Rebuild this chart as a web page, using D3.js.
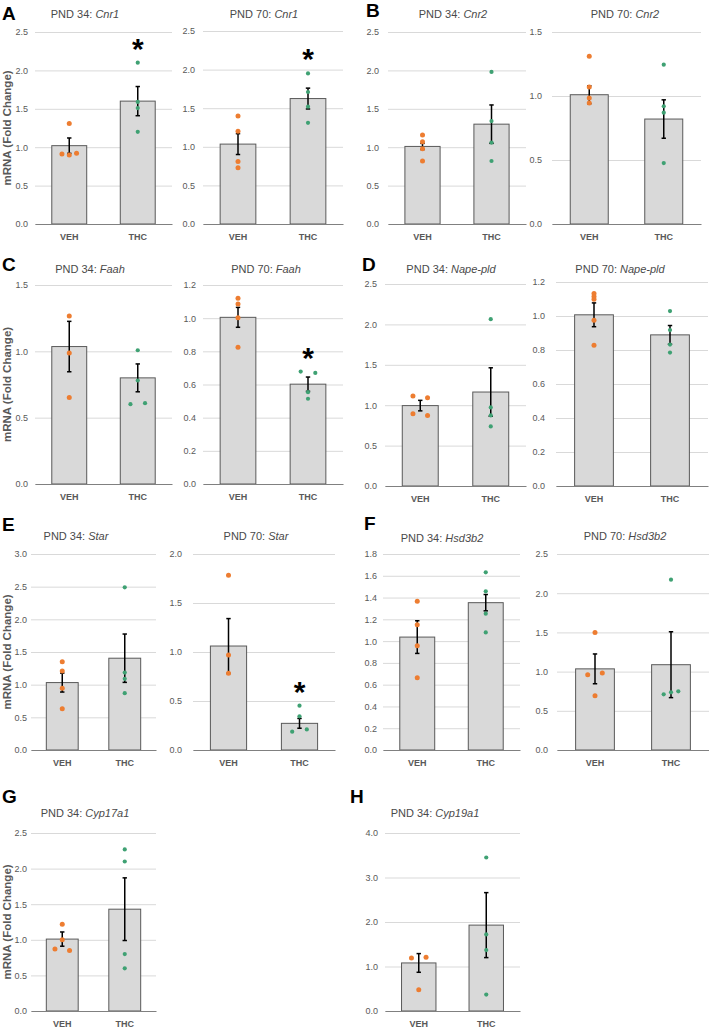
<!DOCTYPE html>
<html><head><meta charset="utf-8">
<script src="https://cdn.jsdelivr.net/npm/d3@7"></script>
<style>
body{margin:0;background:#fff}
svg{display:block}
text{font-family:"Liberation Sans",Arial,sans-serif}
</style>
</head><body>
<svg id="c" width="709" height="1029"></svg>
<script>
// ---------- data ----------
const ages = ["PND 34","PND 70","PND 34","PND 70","PND 34","PND 70","PND 34","PND 70","PND 34","PND 70","PND 34","PND 70","PND 34","PND 34"];
const genes = ["Cnr1","Cnr1","Cnr2","Cnr2","Faah","Faah","Nape-pld","Nape-pld","Star","Star","Hsd3b2","Hsd3b2","Cyp17a1","Cyp19a1"];
const panelLetters = ["A","","B","","C","","D","","E","","F","","G","H"];
const groups = ["VEH","THC"];
const yMaxes = [2.5,2.5,2.5,1.5,1.5,1.2,2.5,1.2,3.0,2.0,1.8,2.5,2.5,4.0];
const yTickSteps = [0.5,0.5,0.5,0.5,0.5,0.2,0.5,0.2,0.5,0.5,0.2,0.5,0.5,1.0];
const vehMeans = [1.02,1.035,1.01,1.01,1.036,1.005,0.995,1.007,1.032,1.061,1.037,1.035,1.01,1.08];
const vehSems  = [0.10,0.135,0.04,0.07,0.19,0.06,0.065,0.07,0.145,0.28,0.15,0.19,0.10,0.21];
const thcMeans = [1.60,1.625,1.30,0.82,0.80,0.602,1.163,0.889,1.405,0.272,1.353,1.088,1.43,1.93];
const thcSems  = [0.19,0.135,0.25,0.15,0.105,0.043,0.30,0.055,0.37,0.05,0.075,0.42,0.44,0.73];
const vehPoints = [
  [1.31,0.91,0.90,0.92],
  [1.40,1.20,0.81,0.73],
  [1.16,1.07,0.98,0.82],
  [1.31,1.07,0.985,0.945],
  [1.267,0.988,0.652],
  [1.12,1.085,1.003,0.825],
  [1.113,1.093,0.894,0.873],
  [1.132,1.115,1.098,0.975,0.828],
  [1.35,1.21,0.945,0.63],
  [1.782,0.969,0.782],
  [1.365,1.15,0.957,0.663],
  [1.50,0.961,0.982,0.693],
  [1.22,1.00,0.87,0.85],
  [1.19,1.21,0.48]
];
const thcPoints = [
  [2.10,1.59,1.51,1.20],
  [1.95,1.71,1.52,1.31],
  [1.98,1.34,1.06,0.82],
  [1.245,0.92,0.87,0.476],
  [1.008,0.78,0.602,0.609],
  [0.678,0.67,0.554,0.514],
  [2.065,0.973,0.873,0.737],
  [1.029,0.917,0.832,0.785],
  [2.49,1.185,1.09,0.87],
  [0.452,0.344,0.187,0.21],
  [1.632,1.457,1.252,1.08],
  [2.173,0.71,0.736,0.748],
  [2.27,2.10,0.80,0.60],
  [3.45,1.72,1.37,0.37]
];
const significant = [true,true,false,false,false,true,false,false,false,true,false,false,false,false];
const yAxisTitle = "mRNA (Fold Change)";

// ---------- layout (positions, in code) ----------
const layout = [
  {x0:35, x1:172, yTop:32, y0:224, tp:7, tx:85, ty:18, lx:2, ly:20, ylab:true},
  {x0:203,x1:343, yTop:31, y0:224, tp:8, tx:264, ty:18},
  {x0:388,x1:526, yTop:32, y0:224, tp:9, tx:453, ty:18, lx:366, ly:17},
  {x0:552,x1:701, yTop:32, y0:224, tp:10, tx:625, ty:18},
  {x0:35, x1:172, yTop:285, y0:484, tp:7, tx:90, ty:273, lx:2, ly:271, ylab:true},
  {x0:203,x1:343, yTop:285, y0:484, tp:7, tx:266, ty:273},
  {x0:385,x1:526, yTop:284, y0:486, tp:8, tx:451, ty:273, lx:362, ly:271},
  {x0:556,x1:708, yTop:282, y0:486, tp:11, tx:620, ty:273},
  {x0:31, x1:156, yTop:554, y0:750, tp:4, tx:76, ty:540, lx:2, ly:531, ylab:true},
  {x0:193,x1:335, yTop:554, y0:750, tp:11, tx:256, ty:540},
  {x0:383,x1:520, yTop:554, y0:750, tp:6, tx:442, ty:542, lx:364, ly:530},
  {x0:557,x1:709, yTop:554, y0:750, tp:9, tx:625, ty:540},
  {x0:31, x1:156, yTop:833, y0:1011, tp:4, tx:85, ty:817, lx:2, ly:803, ylab:true},
  {x0:385,x1:520, yTop:833, y0:1011, tp:7, tx:435, ty:817, lx:350, ly:803}
];

const COL_VEH = "#ED7D31", COL_THC = "#3FA173";
const svg = d3.select("#c");

function spreadOffsets(vals, y) {
  // group points whose pixel positions nearly coincide, spread them sideways
  const px = vals.map(v => y(v));
  const offs = new Array(vals.length).fill(0);
  const used = new Array(vals.length).fill(false);
  for (let i = 0; i < vals.length; i++) {
    if (used[i]) continue;
    const grp = [i]; used[i] = true;
    let changed = true;
    while (changed) {
      changed = false;
      for (let j = 0; j < vals.length; j++) {
        if (!used[j] && grp.some(k => Math.abs(px[k] - px[j]) < 2.5)) { grp.push(j); used[j] = true; changed = true; }
      }
    }
    grp.sort((a,b)=>a-b);
    const n = grp.length;
    grp.forEach((k, idx) => {
      offs[k] = (n % 2 === 1) ? (idx - (n-1)/2) * 7.3 : (2*idx - (n-1)) * 7.3;
    });
  }
  return offs;
}

genes.forEach((gene, p) => {
  const L = layout[p];
  const g = svg.append("g");
  const y = d3.scaleLinear().domain([0, yMaxes[p]]).range([L.y0, L.yTop]);
  const x = d3.scaleBand().domain(groups).range([L.x0, L.x1]).paddingInner(0.49).paddingOuter(0.245);
  const ticks = d3.range(0, yMaxes[p] + 1e-9, yTickSteps[p]);

  // gridlines + tick labels
  const ax = g.append("g").attr("transform", `translate(${L.x0},0)`)
    .call(d3.axisLeft(y).tickValues(ticks).tickSize(-(L.x1 - L.x0)).tickPadding(L.tp).tickFormat(d3.format(".1f")));
  ax.select(".domain").remove();
  ax.selectAll(".tick line").attr("stroke", "#d9d9d9").attr("stroke-width", 1);
  ax.selectAll(".tick text").attr("fill", "#595959").style("font-size", "9px");

  // bars
  const means = [vehMeans[p], thcMeans[p]];
  const sems = [vehSems[p], thcSems[p]];
  g.selectAll("rect.bar").data(groups).join("rect")
    .attr("x", d => x(d)).attr("width", x.bandwidth())
    .attr("y", (d,i) => y(means[i])).attr("height", (d,i) => L.y0 - y(means[i]))
    .attr("fill", "#d9d9d9").attr("stroke", "#595959").attr("stroke-width", 1);

  // baseline axis
  const xa = g.append("g").attr("transform", `translate(0,${L.y0})`)
    .call(d3.axisBottom(x).tickSize(0).tickPadding(10));
  xa.select(".domain").attr("stroke", "#808080").attr("stroke-width", 1.2);
  xa.selectAll(".tick text").attr("fill", "#595959").style("font-size", "9px").style("font-weight", "bold");

  // error bars
  groups.forEach((grp, i) => {
    const cx = x(grp) + x.bandwidth()/2;
    const top = y(means[i] + sems[i]), bot = y(Math.max(0, means[i] - sems[i]));
    g.append("line").attr("x1", cx).attr("x2", cx).attr("y1", top).attr("y2", bot).attr("stroke", "#000").attr("stroke-width", 1.5);
    [top, bot].forEach(yy => g.append("line").attr("x1", cx-2.2).attr("x2", cx+2.2).attr("y1", yy).attr("y2", yy).attr("stroke", "#000").attr("stroke-width", 1.5));
  });

  // points
  [[vehPoints[p], COL_VEH, 2.5, "VEH"], [thcPoints[p], COL_THC, 2.1, "THC"]].forEach(([vals, col, r, grp]) => {
    const cx = x(grp) + x.bandwidth()/2;
    const offs = spreadOffsets(vals, y);
    g.selectAll(null).data(vals).join("circle")
      .attr("cx", (d,i) => cx + offs[i]).attr("cy", d => y(d)).attr("r", r).attr("fill", col);
  });

  // significance star
  if (significant[p]) {
    const cx = x("THC") + x.bandwidth()/2;
    const topY = y(d3.max(thcPoints[p])) - 21;
    g.append("text").attr("x", cx).attr("y", topY + 17).attr("text-anchor", "middle")
      .style("font-size", "30px").style("font-weight", "bold").attr("fill", "#000").text("*");
  }

  // title
  const t = g.append("text").attr("x", L.tx).attr("y", L.ty).attr("text-anchor", "middle")
    .attr("fill", "#4a4a4a").style("font-size", "11px");
  t.append("tspan").text(ages[p] + ": ");
  t.append("tspan").style("font-style", "italic").text(gene);

  // panel letter
  if (panelLetters[p]) {
    g.append("text").attr("x", L.lx).attr("y", L.ly).style("font-size", "19px").style("font-weight", "bold")
      .attr("fill", "#000").text(panelLetters[p]);
  }

  // y axis title
  if (L.ylab) {
    g.append("text").attr("transform", `translate(11,${(L.y0 + L.yTop)/2}) rotate(-90)`)
      .attr("text-anchor", "middle").attr("fill", "#595959")
      .style("font-size", "11.5px").style("font-weight", "bold").text(yAxisTitle);
  }
});
</script>
</body></html>
